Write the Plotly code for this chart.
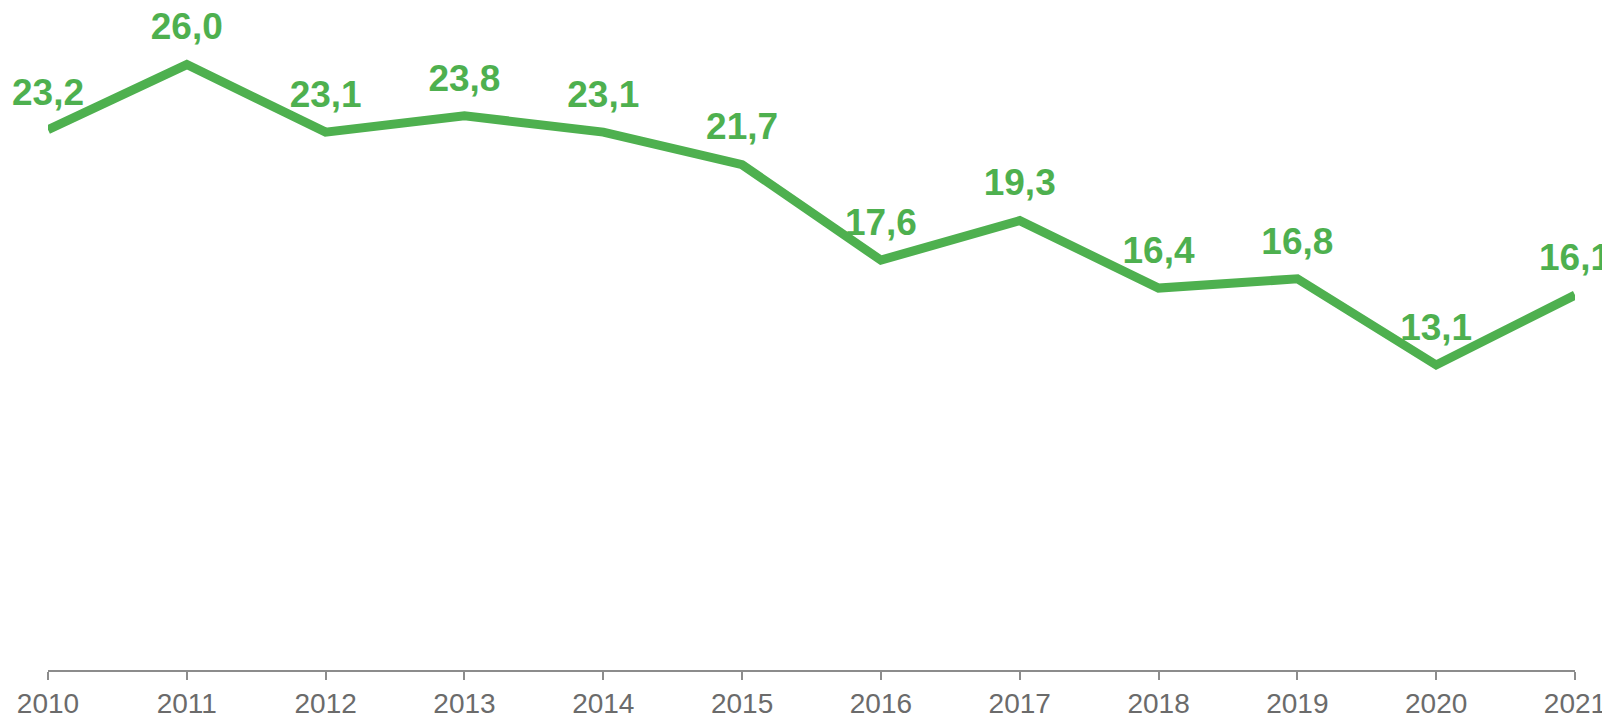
import plotly.graph_objects as go

# ── data ─────────────────────────────────────────────────────────────────────
years = ["2010", "2011", "2012", "2013", "2014", "2015",
         "2016", "2017", "2018", "2019", "2020", "2021"]
values = [23.2, 26.0, 23.1, 23.8, 23.1, 21.7, 17.6, 19.3, 16.4, 16.8, 13.1, 16.1]
labels = [f"{v:.1f}".replace(".", ",") for v in values]  # decimal comma

GREEN = "#4EB04F"
AXIS = "#8C8C8C"
TICK_TX = "#6B6B6B"
FONT = "Liberation Sans, Arial, sans-serif"

fig = go.Figure(
    go.Scatter(
        x=years,
        y=values,
        mode="lines+markers+text",
        line=dict(color=GREEN, width=9),
        # invisible markers only to push the value labels off the line
        marker=dict(size=24, color="rgba(0,0,0,0)"),
        text=labels,
        textposition="top center",
        textfont=dict(family=FONT, size=37, color=GREEN, weight="bold"),
        hoverinfo="skip",
        cliponaxis=False,
    )
)

# page body adds an 8px offset, so the figure is sized to fit inside it
fig.update_layout(
    width=1602,
    height=709,
    paper_bgcolor="white",
    plot_bgcolor="white",
    showlegend=False,
    margin=dict(l=40, r=35, t=10, b=47),
    font=dict(family=FONT),
)
fig.update_xaxes(
    type="category",
    range=[0, len(years) - 1],
    automargin=False,
    showgrid=False,
    zeroline=False,
    showline=True,
    linecolor=AXIS,
    linewidth=1.5,
    ticks="outside",
    ticklen=8,
    tickwidth=1.5,
    tickcolor=AXIS,
    tickfont=dict(family=FONT, size=28, color=TICK_TX),
)
fig.update_yaxes(
    range=[0, 28],
    automargin=False,
    showgrid=False,
    zeroline=False,
    showline=False,
    showticklabels=False,
    ticks="",
)

fig.write_html("out.html")
